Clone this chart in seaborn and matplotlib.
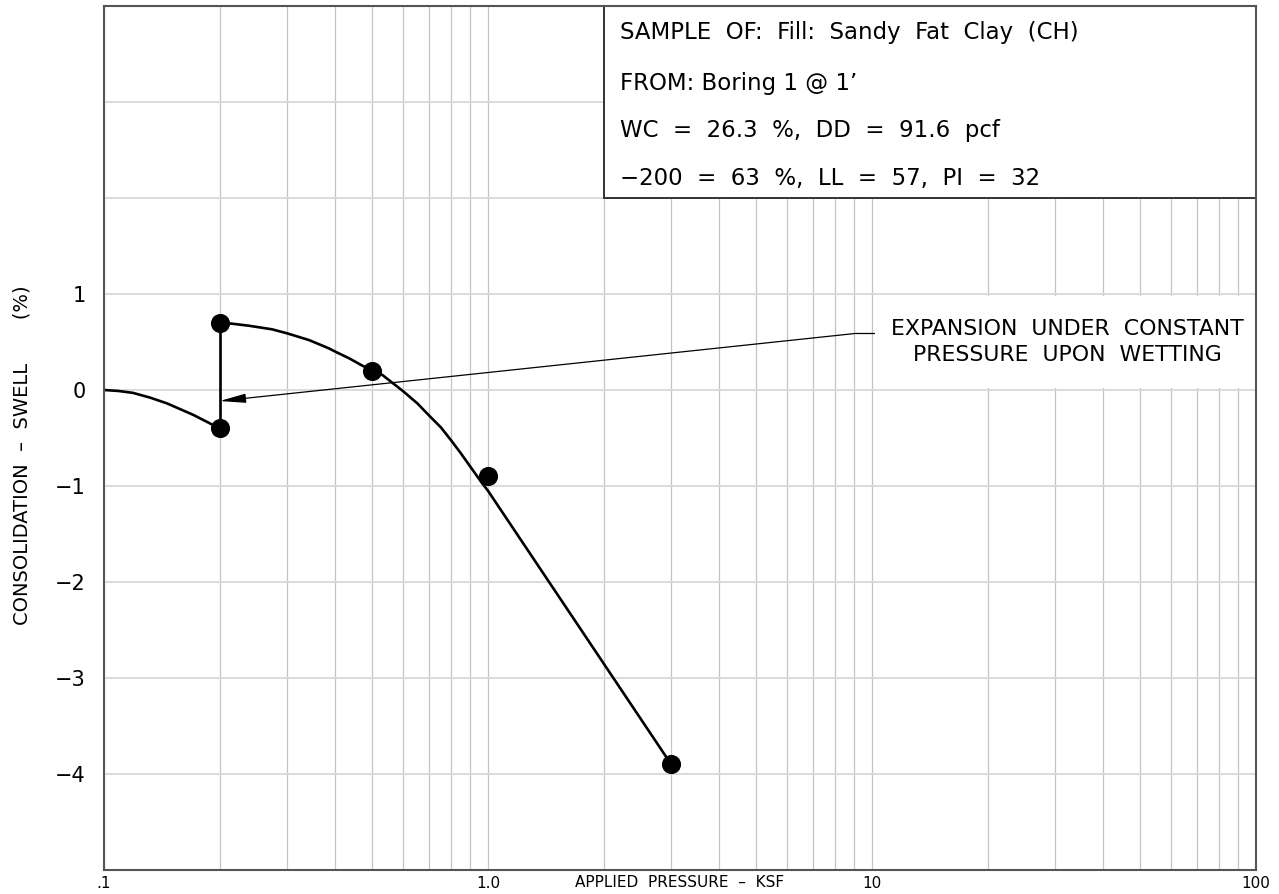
import matplotlib
matplotlib.use("Agg")
import matplotlib.pyplot as plt
from matplotlib.patches import Rectangle
from matplotlib.ticker import FixedLocator, LogLocator, NullFormatter
import seaborn as sns

# ---- data ----
test_pressure = [0.2, 0.2, 0.5, 1.0, 3.0]
test_swell = [-0.4, 0.7, 0.2, -0.9, -3.9]

seating_pressure = [0.1, 0.109, 0.119, 0.132, 0.146, 0.158, 0.171, 0.185, 0.2]
seating_swell = [0.0, -0.01, -0.03, -0.08, -0.14, -0.20, -0.26, -0.33, -0.4]

wetting_pressure = [0.2, 0.2]
wetting_swell = [-0.4, 0.7]

loading_pressure = [0.2, 0.211, 0.238, 0.274, 0.3, 0.342, 0.385, 0.4, 0.435, 0.471,
                    0.531, 0.6, 0.655, 0.7, 0.754, 0.8, 0.85, 0.9, 0.959, 1.0, 3.0]
loading_swell = [0.7, 0.695, 0.67, 0.632, 0.59, 0.52, 0.434, 0.40, 0.33, 0.253,
                 0.156, -0.01, -0.14, -0.26, -0.39, -0.52, -0.66, -0.80, -0.955, -1.05, -3.9]

y_tick_values = [-5, -4, -3, -2, -1, 0, 1, 2, 3, 4]
y_tick_labels = ["", "\u22124", "\u22123", "\u22122", "\u22121", "0", "1", "", "", ""]
x_tick_values = [0.1, 1.0, 10, 100]
x_tick_labels = [".1", "1.0", "10", "100"]

info_lines = [
    "SAMPLE  OF:  Fill:  Sandy  Fat  Clay  (CH)",
    "FROM: Boring 1 @ 1\u2019",
    "WC  =  26.3  %,  DD  =  91.6  pcf",
    "\u2212200  =  63  %,  LL  =  57,  PI  =  32",
]
note_lines = ["EXPANSION  UNDER  CONSTANT", "PRESSURE  UPON  WETTING"]

# ---- style ----
sns.set_style("whitegrid")
plt.rcParams["font.family"] = ["DejaVu Sans"]
plt.rcParams["text.color"] = "black"
plt.rcParams["xtick.color"] = "black"
plt.rcParams["ytick.color"] = "black"
plt.rcParams["axes.labelcolor"] = "black"

fig = plt.figure(figsize=(12.79, 8.94), dpi=100)
ax = fig.add_axes([104 / 1279, 1 - 870 / 894, (1256 - 104) / 1279, (870 - 6) / 894])
ax.set_xscale("log")
ax.set_xlim(0.1, 100)
ax.set_ylim(-5, 4)

for s in ax.spines.values():
    s.set_color("#555555")
    s.set_linewidth(1.5)

ax.xaxis.set_major_locator(FixedLocator(x_tick_values))
ax.xaxis.set_minor_locator(LogLocator(base=10, subs=range(2, 10)))
ax.xaxis.set_minor_formatter(NullFormatter())
ax.set_xticks(x_tick_values)
ax.set_xticklabels(x_tick_labels, fontsize=11)
ax.set_yticks(y_tick_values)
ax.set_yticklabels(y_tick_labels, fontsize=15)
ax.tick_params(axis="x", which="both", length=0, pad=4, colors="black")
ax.tick_params(axis="y", length=0, pad=13, colors="black")

ax.grid(True, which="major", axis="y", color="#d8d8d8", linewidth=1.3)
ax.grid(True, which="both", axis="x", color="#c4c4c4", linewidth=0.9)
ax.set_axisbelow(True)

# ---- curves ----
line_kw = dict(color="black", linewidth=1.9, sort=False, estimator=None, legend=False, ax=ax)
sns.lineplot(x=seating_pressure, y=seating_swell, **line_kw)
sns.lineplot(x=wetting_pressure, y=wetting_swell, **line_kw)
sns.lineplot(x=loading_pressure, y=loading_swell, **line_kw)
sns.scatterplot(x=test_pressure, y=test_swell, color="black", s=190,
                edgecolor="black", linewidth=0, zorder=5, ax=ax, legend=False)

# ---- annotation ----
ax.add_patch(Rectangle((10.1, 0.02), 100 - 10.1, 0.96, facecolor="white",
                       edgecolor="none", zorder=1.5))
ax.plot([9.1, 10.1], [0.59, 0.59], color="black", linewidth=0.9, zorder=3)
ax.annotate("", xy=(0.2, -0.115), xytext=(9.1, 0.59),
            arrowprops=dict(arrowstyle="-|>,head_length=0.8,head_width=0.14",
                            mutation_scale=20, color="black", linewidth=0.9,
                            shrinkA=0, shrinkB=0),
            zorder=4)
ax.text(32.2, 0.635, note_lines[0], ha="center", va="center", fontsize=15.8,
        color="black", zorder=3)
ax.text(32.2, 0.365, note_lines[1], ha="center", va="center", fontsize=15.8,
        color="black", zorder=3)

# ---- info box ----
ax.add_patch(Rectangle((2.0, 2.0), 98.0, 2.0, facecolor="white", edgecolor="#333333",
                       linewidth=1.4, zorder=2, clip_on=False))
for txt, yv in zip(info_lines, [3.72, 3.19, 2.70, 2.20]):
    ax.text(2.21, yv, txt, ha="left", va="center", fontsize=16.5, color="black", zorder=3)

# ---- axis labels ----
ax.set_xlabel("APPLIED  PRESSURE  \u2013  KSF", fontsize=11, color="black")
ax.xaxis.set_label_coords(0.5, -0.0139)
ax.xaxis.label.set_va("center")
ax.set_ylabel("CONSOLIDATION  \u2013  SWELL       (%)", fontsize=14, color="black")
ax.yaxis.set_label_coords(-0.071, 0.48)
ax.yaxis.label.set_va("center")

fig.savefig("out.png", dpi=100)
